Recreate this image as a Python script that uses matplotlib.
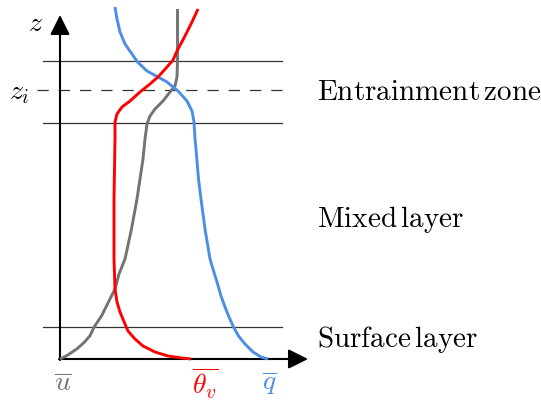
import matplotlib
matplotlib.use("Agg")
import matplotlib.pyplot as plt

plt.rcParams["mathtext.fontset"] = "cm"

# Profiles through the boundary layer (x: value, z: height), arbitrary units
u_x = [0, 6.7, 16.7, 24.3, 30, 34.3, 41.7, 48.3, 55, 59, 65, 71.5, 77, 80, 83, 85,
       87, 90, 95, 103, 110, 115, 117, 117.5, 117.5]
u_z = [0, 3.3, 10, 16.7, 23.3, 32.3, 43.3, 56.7, 70, 85, 100, 130, 160, 180, 200, 220,
       235, 243, 250, 258, 267, 273, 282, 298, 350]

theta_x = [131, 122, 108, 95, 83, 75, 68, 65, 60, 57, 55, 54, 54, 55, 55, 57, 62,
           70, 80, 90, 98, 107, 113, 117, 125, 132, 138]
theta_z = [0, 1, 3, 7, 13, 20, 28, 35, 47, 57, 70, 100, 160, 220, 237, 245, 252,
           258, 267, 275, 282, 292, 299, 308, 323, 337, 350]

q_x = [208, 201, 193, 185, 178.5, 173.5, 169, 165, 161, 157, 153, 150, 145, 141,
       138.5, 136, 135, 134, 132, 127, 118, 107, 98, 87, 77.5, 72, 65, 60, 57, 55]
q_z = [0, 2, 7, 15, 23, 32, 42, 52, 63, 77, 90, 100, 130, 160,
       180, 210, 220, 237, 248, 258, 268, 277, 282, 288, 297, 305, 315, 327, 340, 352]

# Layer boundaries
surface_top = 32
mixed_top = 236
z_i = 269.5
entrain_top = 298

layer_names = [r"$\mathrm{Entrainment}\,\mathrm{zone}$",
               r"$\mathrm{Mixed}\,\mathrm{layer}$",
               r"$\mathrm{Surface}\,\mathrm{layer}$"]
layer_label_z = [268, 140, 20]

var_labels = [r"$\overline{u}$", r"$\overline{\theta_v}$", r"$\overline{q}$"]
var_label_x = [3, 145, 209]
var_colors = ["#737373", "#ff0000", "#4a8ee6"]

fig = plt.figure(figsize=(5.41, 4.02), dpi=100)
ax = fig.add_axes([0, 0, 1, 1])
ax.set_xlim(-60, 481)
ax.set_ylim(-42, 360)
ax.axis("off")

# horizontal layer lines
for z in (surface_top, mixed_top, entrain_top):
    ax.plot([-17, 222], [z, z], color="#333333", lw=0.9, zorder=1)
ax.plot([-23, 222], [z_i, z_i], color="#333333", lw=0.9,
        dashes=(9, 8), zorder=1)

# axes with arrow heads
arrow = dict(arrowstyle="-|>,head_length=0.6,head_width=0.3",
             lw=1.5, color="black", shrinkA=0, shrinkB=0, mutation_scale=20)
ax.annotate("", xy=(0, 344), xytext=(0, -1), arrowprops=arrow, zorder=2)
ax.annotate("", xy=(248, 0), xytext=(-1, 0), arrowprops=arrow, zorder=2)

# profiles
style = dict(lw=2.1, solid_capstyle="butt", solid_joinstyle="round")
ax.plot(u_x, u_z, color=var_colors[0], zorder=3, **style)
ax.plot(theta_x, theta_z, color=var_colors[1], zorder=4, **style)
ax.plot(q_x, q_z, color=var_colors[2], zorder=3, **style)

# labels
ax.text(-25, 337, r"$z$", fontsize=20, ha="center", va="center")
ax.text(-41, 268, r"$z_i$", fontsize=20, ha="center", va="center")
for x, lab, c in zip(var_label_x, var_labels, var_colors):
    ax.text(x, -23, lab, fontsize=20, color=c, ha="center", va="center")
for z, name in zip(layer_label_z, layer_names):
    ax.text(257, z, name, fontsize=21, ha="left", va="center")

fig.savefig("out.png", dpi=100)
